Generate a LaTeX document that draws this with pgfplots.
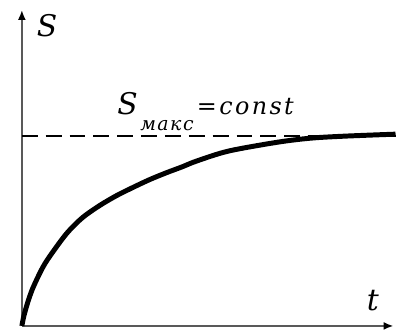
\documentclass[border=0pt]{standalone}
\usepackage{fontspec}
\setmainfont{DejaVu Serif}
\newfontfamily\labfont{DejaVu Serif}
\usepackage{pgfplots}
\pgfplotsset{compat=1.18}
\usetikzlibrary{arrows.meta}
\begin{document}
\begin{tikzpicture}
\begin{axis}[scale only axis, width=398pt, height=334pt,
  xmin=-22, xmax=376, ymin=-6, ymax=328, hide axis, clip=false]
\path (rel axis cs:0,0) -- (rel axis cs:1,1);
\draw[black!65, line width=2pt, -{Latex[length=10pt,width=8pt,color=black]}] (axis cs:0,0) -- (axis cs:0,318);
\draw[black!65, line width=2pt, -{Latex[length=10pt,width=8pt,color=black]}] (axis cs:0,0) -- (axis cs:374,0);
\addplot[black, line width=1.5pt, dash pattern=on 16pt off 8pt, forget plot] coordinates {(0,191) (376,191)};
\addplot[black, line width=5pt, smooth, forget plot] coordinates {
(0,0) (2,10) (6,24) (11,38) (20,57) (28,70) (45,93) (61,109) (78,121) (95,131)
(111,139) (128,147) (145,154) (161,160) (176,166) (208,176) (258,185) (291,189)
(325,191) (376,193)};
\node[anchor=base west, inner sep=0pt, font=\fontsize{30}{30}\selectfont\labfont\itshape] at (axis cs:15,291) {S};
\node[anchor=base west, inner sep=0pt, font=\fontsize{30}{30}\selectfont\labfont\itshape] at (axis cs:96,213) {S};
\node[anchor=base west, inner sep=0pt, font=\fontsize{19}{19}\selectfont\labfont\itshape\addfontfeature{LetterSpace=8}] at (axis cs:119,197) {макс};
\node[anchor=base west, inner sep=0pt, font=\fontsize{24}{24}\selectfont\labfont\itshape\addfontfeature{LetterSpace=10}] at (axis cs:176,213) {=const};
\node[anchor=base west, inner sep=0pt, font=\fontsize{30}{30}\selectfont\labfont\itshape] at (axis cs:347,16) {t};
\end{axis}
\end{tikzpicture}
\end{document}
